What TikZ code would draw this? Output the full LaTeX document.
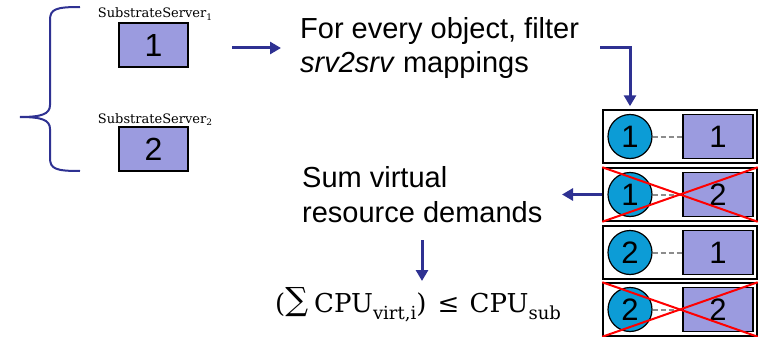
\documentclass[tikz,border=0pt]{standalone}
\usepackage{fontspec}
\setmainfont{Liberation Sans}
\newfontfamily\labelserif{DejaVu Serif}
\usetikzlibrary{arrows.meta,calc}
\definecolor{flowblue}{RGB}{46,49,146}
\definecolor{srvfill}{RGB}{155,155,223}
\definecolor{vmfill}{RGB}{12,156,214}
\definecolor{linkgray}{RGB}{140,140,140}
\definecolor{crossred}{RGB}{255,0,0}
\begin{document}
\begin{tikzpicture}[x=1pt,y=-1pt,
  flow/.style={draw=flowblue,line width=3pt,-{Triangle[length=11pt,width=12pt]}},
  srvbox/.style={draw=black,line width=1.5pt,fill=srvfill,minimum width=69pt,
    minimum height=44pt,inner sep=0pt,font=\fontsize{32}{32}\selectfont},
  srvlabel/.style={inner sep=0pt,font=\labelserif\fontsize{13}{13}\selectfont},
  rowbox/.style={draw=black,line width=1.5pt,minimum width=154pt,minimum height=53pt,inner sep=0pt},
  vm/.style={circle,draw=black,line width=1.2pt,fill=vmfill,minimum size=44pt,
    inner sep=0pt,font=\fontsize{31}{31}\selectfont},
  srvsq/.style={draw=black,line width=1.5pt,fill=srvfill,minimum width=70pt,
    minimum height=44pt,inner sep=0pt,font=\fontsize{31}{31}\selectfont},
  link/.style={draw=linkgray,line width=2pt,dash pattern=on 5pt off 3pt},
  cross/.style={draw=crossred,line width=2pt},
  caption/.style={align=left,inner sep=0pt,font=\fontsize{29}{35}\selectfont},
  formula/.style={inner sep=0pt,font=\labelserif\fontsize{26}{30}\selectfont},
]
\useasboundingbox (0,0) rectangle (760,337);

% grouping brace of the substrate servers
\draw[flowblue,line width=2pt]
  (80,7) .. controls (56,7) and (50,9) .. (50,20) -- (50,105)
  .. controls (50,114) and (42,117) .. (20,117)
  .. controls (42,117) and (50,120) .. (50,129) -- (50,158)
  .. controls (50,169) and (56,171) .. (80,171);

% substrate servers
\node[srvlabel,anchor=base] (l1) at (155,18) {SubstrateServer\raisebox{-0.2em}{\fontsize{9}{9}\selectfont 1}};
\node[srvbox] (s1) at (153.5,45) {1};
\node[srvlabel,anchor=base] (l2) at (155,123) {SubstrateServer\raisebox{-0.2em}{\fontsize{9}{9}\selectfont 2}};
\node[srvbox] (s2) at (153.5,149) {2};

% process steps (base anchor sits on the last line)
\node[caption,anchor=base west] (filt) at (300,73) {For every object, filter\\\textit{srv2srv} mappings};
\node[caption,anchor=base west] (sum) at (302,222) {Sum virtual\\resource demands};
\node[formula,anchor=base west] (ineq) at (275,312)
  {(\raisebox{0.05em}{\fontsize{32}{32}\selectfont ∑}\hspace{6pt}CPU\raisebox{-0.3em}{\fontsize{18}{18}\selectfont virt,i})\hspace{3pt} ≤ \hspace{2pt}CPU\raisebox{-0.3em}{\fontsize{18}{18}\selectfont sub}};

% candidate mappings, one per row
\foreach \i/\y/\v/\s in {1/136.5/1/1, 2/194.5/1/2, 3/252.5/2/1, 4/309.5/2/2} {
  \node[rowbox] (r\i) at (680,\y) {};
  \node[vm] (c\i) at (630,\y) {\v};
  \node[srvsq] (q\i) at (718,\y) {\s};
  \draw[link] (c\i) -- (q\i);
}
\foreach \i in {2,4} {
  \draw[cross] (r\i.north west) -- (r\i.south east);
  \draw[cross] (r\i.north east) -- (r\i.south west);
}

% flow arrows
\coordinate (a1) at (232,48);
\coordinate (a2) at (281,48);
\draw[flow] (a1) -- (a2);
\coordinate (b1) at (600,48);
\draw[flow] (b1) -| ($(c1 |- r1.north)+(0,-3)$);
\coordinate (e1) at (562,194.5);
\draw[flow] (r2.west) -- (e1);
\coordinate (d1) at (422,240);
\coordinate (d2) at (422,281);
\draw[flow] (d1) -- (d2);
\end{tikzpicture}
\end{document}
